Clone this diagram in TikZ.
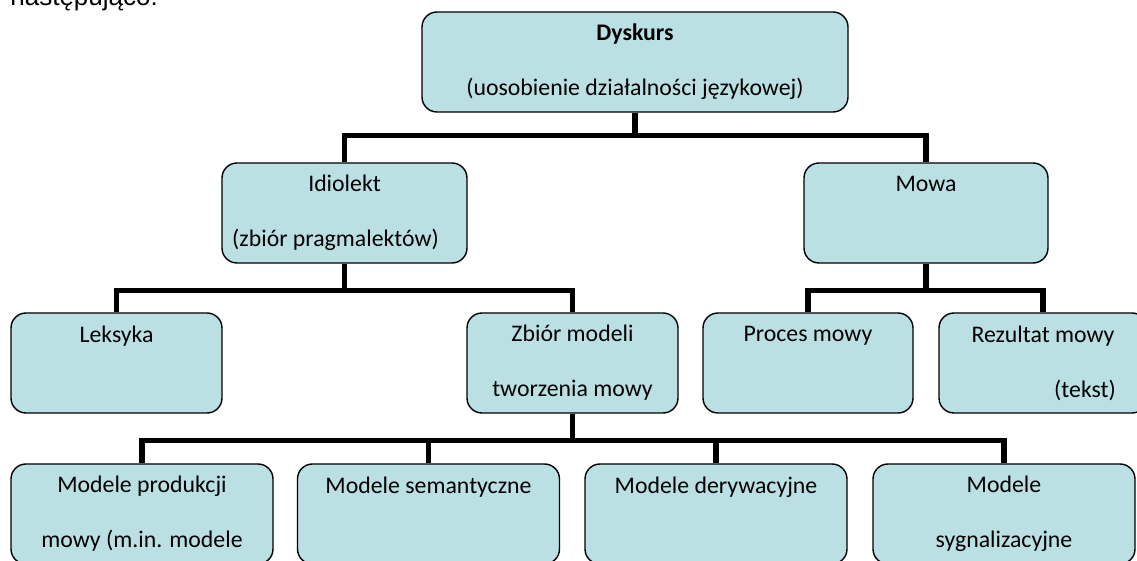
\documentclass[tikz,border=0pt]{standalone}
\usepackage{fontspec}
\setmainfont{Carlito}
\newfontfamily\introfont{Liberation Sans}
\definecolor{cardfill}{RGB}{186,224,227}

\begin{document}
\begin{tikzpicture}[
    x=0.5pt, y=-0.5pt,
    font=\fontsize{11.9}{27.5}\selectfont,
    card/.style={draw=black, line width=0.7pt, fill=cardfill, rounded corners=7.5pt,
                 align=center, minimum height=50pt, inner sep=0pt},
    link/.style={line width=2.8pt, black}
  ]

  \useasboundingbox (0,0) rectangle (1137,561);
  \clip (0,0) rectangle (1137,561);

  % --- Lead-in line (cut off at the top) ---
  \node[anchor=base west, inner sep=0pt, font=\introfont\fontsize{13}{15}\selectfont] (intro) at (10,5.5) {następująco:};

  % --- Top level ---
  \node[card, minimum width=213pt] (dysk) at (635,62) {\textbf{Dyskurs}\\(uosobienie działalności językowej)};

  % --- Second level ---
  \node[card, minimum width=122.5pt] (idio) at (344.5,213) {Idiolekt\\(zbiór pragmalektów)\hspace*{9pt}};
  \node[card, minimum width=122pt] (mowa) at (926,213) {Mowa\\\vphantom{(}};
  \draw[link] (dysk.south) -- ++(0,23) -| (idio.north);
  \draw[link] (dysk.south) -- ++(0,23) -| (mowa.north);

  % --- Third level ---
  \node[card, minimum width=105.5pt] (leks) at (116.5,363) {Leksyka\\\vphantom{(}};
  \node[card, minimum width=105.5pt] (zbior) at (572.5,363) {Zbiór modeli\\tworzenia mowy};
  \draw[link] (idio.south) -- ++(0,27) -| (leks.north);
  \draw[link] (idio.south) -- ++(0,27) -| (zbior.north);

  \node[card, minimum width=105pt] (proc) at (808,363) {Proces mowy\\\vphantom{(}};
  \node[card, minimum width=104pt] (rez) at (1043,363) {Rezultat mowy\\\hspace*{42pt}(tekst)};
  \draw[link] (mowa.south) -- ++(0,27) -| (proc.north);
  \draw[link] (mowa.south) -- ++(0,27) -| (rez.north);

  % --- Models (bottom row) ---
  \foreach \name/\x/\txt in {prod/142/{Modele produkcji\\mowy (m.in. modele},
                             sem/428.5/{Modele semantyczne\\\vphantom{(}},
                             der/716/{Modele derywacyjne\\\vphantom{(}},
                             syg/1004/{Modele\\sygnalizacyjne}} {
    \node[card, minimum width=131pt] (\name) at (\x,514) {\txt};
    \draw[link] (zbior.south) -- ++(0,27) -| (\name.north);
  }

\end{tikzpicture}
\end{document}
